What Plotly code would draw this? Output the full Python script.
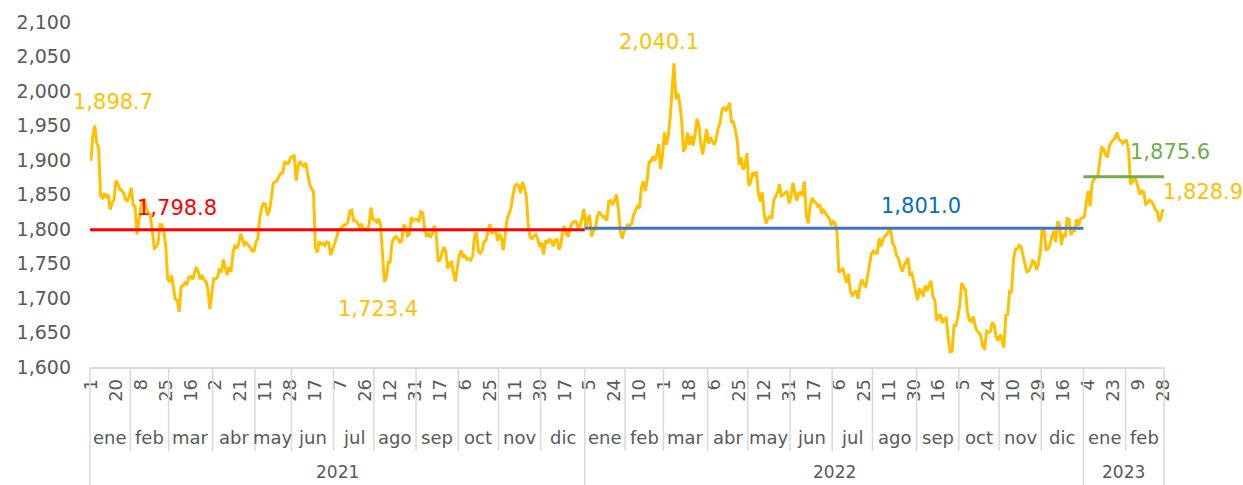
import pandas as pd
import plotly.graph_objects as go

# ---------------- DATA ----------------
start_date = "2021-01-01"
end_date = "2023-02-28"
missing_dates = ["2021-05-03", "2021-05-31", "2021-07-05"]

gold_2021 = [
    # ene
    1898.7, 1935, 1950, 1925, 1918, 1848, 1845, 1852, 1845, 1850, 1828, 1838, 1842, 1870, 1866, 1858, 1856, 1852, 1843, 1841, 1848,
    # feb
    1860, 1835, 1833, 1792, 1810, 1832, 1840, 1842, 1828, 1823, 1820, 1797, 1772, 1774, 1780, 1806, 1806, 1797, 1775, 1728,
    # mar
    1723, 1733, 1715, 1698, 1697, 1680, 1716, 1718, 1722, 1719, 1730, 1731, 1727, 1737, 1745, 1737, 1727, 1733, 1726, 1724, 1712, 1684, 1707,
    # abr
    1728, 1728, 1730, 1743, 1737, 1756, 1744, 1733, 1745, 1738, 1764, 1777, 1772, 1778, 1793, 1783, 1777, 1780, 1777, 1773, 1768, 1768,
    # may
    1780, 1786, 1815, 1831, 1837, 1836, 1820, 1826, 1843, 1866, 1868, 1870, 1876, 1881, 1881, 1898, 1895, 1895, 1903,
    # jun
    1905, 1907, 1870, 1891, 1898, 1893, 1890, 1896, 1877, 1865, 1858, 1855, 1774, 1766, 1782, 1778, 1779, 1776, 1781, 1780, 1762, 1770,
    # jul
    1776, 1787, 1797, 1800, 1803, 1806, 1806, 1810, 1826, 1827, 1812, 1812, 1809, 1803, 1806, 1801, 1799, 1799, 1806, 1831, 1814,
    # ago
    1813, 1810, 1815, 1806, 1763, 1723.4, 1730, 1752, 1752, 1780, 1787, 1789, 1786, 1781, 1782, 1806, 1803, 1790, 1792, 1817, 1812, 1814,
    # sep
    1814, 1810, 1825, 1823, 1800, 1789, 1794, 1788, 1793, 1805, 1794, 1754, 1755, 1764, 1774, 1768, 1743, 1750, 1752, 1736, 1724, 1743,
    # oct
    1761, 1769, 1760, 1761, 1756, 1757, 1755, 1760, 1790, 1795, 1768, 1765, 1769, 1782, 1783, 1796, 1807, 1793, 1797, 1801, 1783,
    # nov
    1793, 1787, 1769, 1792, 1815, 1822, 1830, 1849, 1862, 1865, 1863, 1852, 1868, 1860, 1847, 1805, 1788, 1786, 1790, 1792, 1785, 1774,
    # dic
    1780, 1763, 1783, 1779, 1785, 1783, 1775, 1783, 1786, 1770, 1777, 1799, 1804, 1792, 1789, 1803, 1809, 1811, 1811, 1803, 1805, 1815, 1829,
]

gold_2022 = [
    # ene
    1801, 1815, 1820, 1789, 1797, 1800, 1818, 1825, 1821, 1817, 1818, 1812, 1840, 1841, 1835, 1841, 1850, 1829, 1797, 1786, 1797,
    # feb
    1801, 1806, 1805, 1808, 1821, 1826, 1833, 1830, 1860, 1869, 1855, 1870, 1897, 1898, 1905, 1899, 1908, 1923, 1887, 1906,
    # mar
    1940, 1922, 1934, 1962, 1998, 2040.1, 1988, 1997, 1982, 1957, 1912, 1918, 1940, 1922, 1935, 1921, 1937, 1960, 1950, 1923, 1908, 1929, 1945,
    # abr
    1924, 1933, 1927, 1922, 1931, 1946, 1953, 1972, 1977, 1972, 1975, 1983, 1955, 1955, 1944, 1928, 1893, 1904, 1886, 1890, 1910,
    # may
    1863, 1867, 1882, 1877, 1883, 1851, 1840, 1853, 1822, 1808, 1815, 1818, 1815, 1841, 1846, 1853, 1865, 1848, 1850, 1853, 1855, 1837,
    # jun
    1847, 1867, 1851, 1841, 1852, 1853, 1848, 1869, 1819, 1808, 1834, 1845, 1840, 1838, 1833, 1836, 1822, 1827, 1823, 1818, 1815, 1805,
    # jul
    1811, 1809, 1795, 1737, 1740, 1742, 1733, 1722, 1735, 1709, 1704, 1708, 1711, 1699, 1718, 1727, 1719, 1717, 1734, 1752, 1765,
    # ago
    1768, 1765, 1765, 1787, 1775, 1785, 1790, 1792, 1797, 1799, 1779, 1775, 1761, 1758, 1747, 1738, 1747, 1752, 1758, 1734, 1736, 1723, 1709,
    # sep
    1697, 1712, 1710, 1702, 1718, 1710, 1717, 1725, 1702, 1697, 1667, 1675, 1675, 1664, 1670, 1671, 1642, 1622, 1623, 1660, 1660, 1672,
    # oct
    1690, 1722, 1716, 1712, 1680, 1668, 1666, 1673, 1660, 1652, 1650, 1645, 1629, 1627, 1652, 1650, 1652, 1665, 1660, 1643, 1638,
    # nov
    1647, 1640, 1628, 1675, 1676, 1711, 1707, 1755, 1771, 1771, 1776, 1774, 1761, 1750, 1737, 1740, 1745, 1754, 1752, 1741, 1749, 1768,
    # dic
    1801, 1798, 1770, 1771, 1777, 1789, 1797, 1781, 1811, 1807, 1777, 1793, 1788, 1815, 1814, 1791, 1797, 1798, 1814, 1805, 1815, 1816,
]

gold_2023 = [
    # ene
    1818, 1838, 1855, 1833, 1866, 1872, 1876, 1877, 1897, 1918, 1916, 1908, 1904, 1920, 1926, 1929, 1932, 1940, 1930, 1928, 1924, 1928,
    # feb
    1928, 1915, 1865, 1868, 1874, 1870, 1861, 1850, 1855, 1853, 1836, 1838, 1842, 1840, 1835, 1828, 1825, 1811, 1817, 1828.9,
]

years = ["2021", "2022", "2023"]
year_averages = [1798.8, 1801.0, 1875.6]
month_names = ["ene", "feb", "mar", "abr", "may", "jun", "jul", "ago", "sep", "oct", "nov", "dic"]
callout_dates = ["2021-01-01", "2022-03-08", "2021-08-09", "2023-02-28"]
label_step = 13

# ---------------- BUILD ----------------
prices = gold_2021 + gold_2022 + gold_2023
dates = pd.bdate_range(start_date, end_date)
dates = dates[~dates.isin(pd.to_datetime(missing_dates))]
assert len(dates) == len(prices), (len(dates), len(prices))

df = pd.DataFrame({"date": dates, "price": prices})
df["idx"] = range(len(df))
n = len(df)

x0, x1 = -0.5, n - 0.5
def xpaper(v):
    return (v - x0) / (x1 - x0)

GOLD = "#FFC000"
AVG_COLORS = ["#FF0000", "#4472C4", "#70AD47"]
AVG_TEXT_COLORS = ["#FF0000", "#0070C0", "#70AD47"]
AXIS_TXT = "#595959"
DIV = "#D9D9D9"
FONT = "DejaVu Sans"

fig = go.Figure()
fig.add_trace(go.Scatter(x=df["idx"], y=df["price"], mode="lines",
                         line=dict(color=GOLD, width=3), hoverinfo="skip"))

annotations = []
shapes = []

# yearly averages
for k, (yr, avg) in enumerate(zip(years, year_averages)):
    sub = df[df["date"].dt.year == int(yr)]
    a, b = sub["idx"].min() - 0.5, sub["idx"].max() + 0.5
    fig.add_trace(go.Scatter(x=[a, b], y=[avg, avg], mode="lines",
                             line=dict(color=AVG_COLORS[k], width=3), hoverinfo="skip"))

# average labels
avg_label_offsets = [(44.7, 0, 22), (174.8, 0, 22), (None, 7, 25)]
for k, (yr, avg) in enumerate(zip(years, year_averages)):
    sub = df[df["date"].dt.year == int(yr)]
    off, xs, ys = avg_label_offsets[k]
    xpos = sub["idx"].min() + off if off is not None else sub["idx"].max()
    annotations.append(dict(x=xpos, y=avg, xref="x", yref="y", text=f"{avg:,.1f}",
                            showarrow=False, xanchor="center", yanchor="middle",
                            xshift=xs, yshift=ys,
                            font=dict(family=FONT, size=21, color=AVG_TEXT_COLORS[k])))

# callouts on the gold series
callout_shifts = [(22, 59), (-15, 21), (-6, -27), (40, 17)]
for d, (xs, ys) in zip(callout_dates, callout_shifts):
    row = df[df["date"] == pd.Timestamp(d)].iloc[0]
    annotations.append(dict(x=row["idx"], y=row["price"], xref="x", yref="y",
                            text=f"{row['price']:,.1f}", showarrow=False,
                            xanchor="center", yanchor="middle", xshift=xs, yshift=ys,
                            font=dict(family=FONT, size=21, color=GOLD)))

# day tick labels
tick_idx = list(range(0, n, label_step))
tick_text = [str(df["date"].iloc[i].day) for i in tick_idx]

# month / year structure
plot_h = 345
MONTH_Y = -(437 - 367) / plot_h
YEAR_Y = -(472 - 367) / plot_h
MONTH_DIV = -(451 - 367) / plot_h
YEAR_DIV = -(485 - 367) / plot_h

df["ym"] = df["date"].dt.to_period("M")
for per, sub in df.groupby("ym"):
    first, last = sub["idx"].min(), sub["idx"].max()
    annotations.append(dict(x=(first + last) / 2, y=MONTH_Y, xref="x", yref="paper",
                            text=month_names[per.month - 1], showarrow=False,
                            xanchor="center", yanchor="middle",
                            font=dict(family=FONT, size=18, color=AXIS_TXT)))
    is_year_start = per.month == 1
    shapes.append(dict(type="line", xref="paper", yref="paper",
                       x0=xpaper(first - 0.5), x1=xpaper(first - 0.5),
                       y0=0, y1=YEAR_DIV if is_year_start else MONTH_DIV,
                       line=dict(color=DIV, width=1.5)))
shapes.append(dict(type="line", xref="paper", yref="paper", x0=1, x1=1, y0=0, y1=YEAR_DIV,
                   line=dict(color=DIV, width=1.5)))

for yr in years:
    sub = df[df["date"].dt.year == int(yr)]
    annotations.append(dict(x=(sub["idx"].min() + sub["idx"].max()) / 2, y=YEAR_Y,
                            xref="x", yref="paper", text=yr, showarrow=False,
                            xanchor="center", yanchor="middle",
                            font=dict(family=FONT, size=17, color=AXIS_TXT)))

fig.update_layout(
    width=1243, height=485,
    margin=dict(l=90, r=79, t=22, b=118),
    paper_bgcolor="white", plot_bgcolor="white",
    showlegend=False,
    annotations=annotations,
    shapes=shapes,
    xaxis=dict(range=[x0, x1], tickmode="array", tickvals=tick_idx, ticktext=tick_text,
               tickangle=-90, ticks="", showgrid=False, zeroline=False,
               showline=True, linecolor=DIV, linewidth=1.5, automargin=False,
               tickfont=dict(family=FONT, size=18, color=AXIS_TXT), ticklabelstandoff=3),
    yaxis=dict(range=[1600, 2100], tickmode="linear", tick0=1600, dtick=50,
               tickformat=",", showgrid=False, zeroline=False, showline=False, ticks="",
               automargin=False,
               tickfont=dict(family=FONT, size=19, color=AXIS_TXT), ticklabelstandoff=18),
)

fig.write_html("out.html", config={"displayModeBar": False},
               post_script="document.body.style.margin='0';document.body.style.padding='0';")
